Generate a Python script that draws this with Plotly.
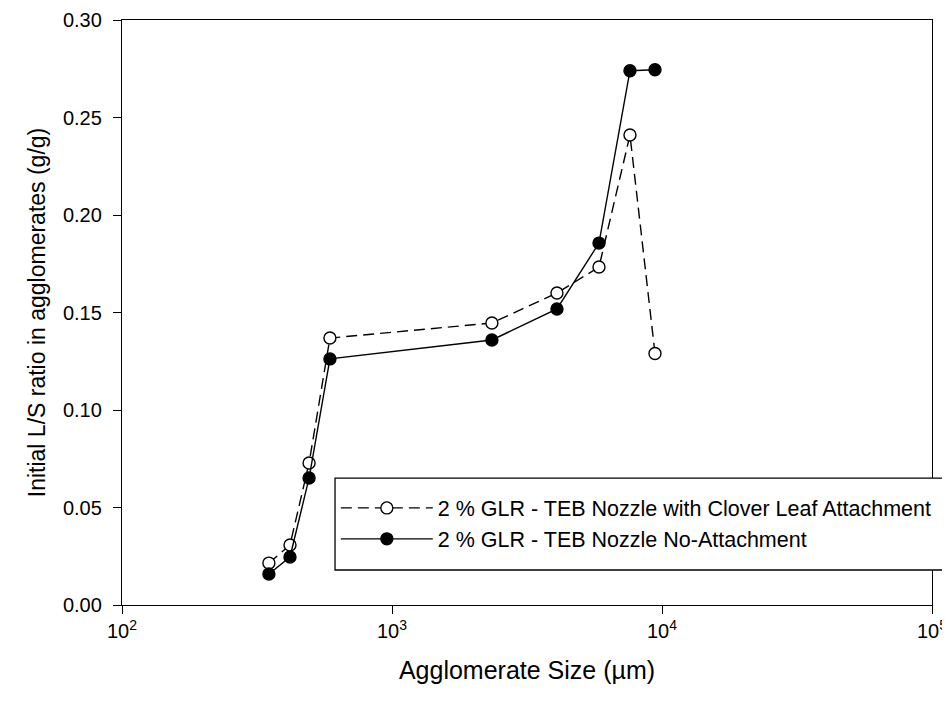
import plotly.graph_objects as go

# Agglomerate size (µm)
x_clover = [350, 419, 493, 589, 2344, 4083, 5843, 7610, 9420]
y_clover = [0.0215, 0.0308, 0.0728, 0.1369, 0.1446, 0.1600, 0.1733, 0.2410, 0.1290]

x_noatt = [350, 419, 493, 589, 2344, 4083, 5843, 7610, 9420]
y_noatt = [0.0159, 0.0246, 0.0651, 0.1262, 0.1359, 0.1518, 0.1856, 0.2740, 0.2745]

name_clover = "2 % GLR - TEB Nozzle with Clover Leaf Attachment"
name_noatt = "2 % GLR - TEB Nozzle No-Attachment"

x_tickvals = [100, 1000, 10000, 100000]
x_ticktext = ["10<sup>2</sup>", "10<sup>3</sup>", "10<sup>4</sup>", "10<sup>5</sup>"]
y_tickvals = [0.00, 0.05, 0.10, 0.15, 0.20, 0.25, 0.30]
y_ticktext = ["0.00", "0.05", "0.10", "0.15", "0.20", "0.25", "0.30"]

FONT = "Liberation Sans, Arial"

fig = go.Figure()
fig.add_trace(go.Scatter(
    x=x_clover, y=y_clover, name=name_clover, mode="lines+markers",
    line=dict(color="black", width=1.4, dash="11px,6px"),
    marker=dict(symbol="circle", size=12, color="white", line=dict(color="black", width=1.4)),
))
fig.add_trace(go.Scatter(
    x=x_noatt, y=y_noatt, name=name_noatt, mode="lines+markers",
    line=dict(color="black", width=1.4),
    marker=dict(symbol="circle", size=12, color="black", line=dict(color="black", width=1.4)),
))

axis_common = dict(
    showline=True, linecolor="black", linewidth=1.3, mirror=True,
    ticks="outside", ticklen=8, tickcolor="black", tickwidth=1.3,
    showgrid=False, zeroline=False,
    tickfont=dict(family=FONT, size=20, color="black"),
)

fig.update_xaxes(
    type="log", range=[2, 5], tickvals=x_tickvals, ticktext=x_ticktext,
    title=dict(text="Agglomerate Size (µm)", font=dict(family=FONT, size=25, color="black"), standoff=20),
    **axis_common,
)
fig.update_yaxes(
    range=[0, 0.30], tickvals=y_tickvals, ticktext=y_ticktext, ticklabelstandoff=7,
    title=dict(text="Initial L/S ratio in agglomerates (g/g)", font=dict(family=FONT, size=23, color="black"), standoff=10),
    **axis_common,
)

# legend frame (white box, extends past right edge like the reference)
fig.add_shape(
    type="rect", xref="paper", yref="paper",
    x0=0.263, x1=1.05, y0=0.0598, y1=0.217,
    line=dict(color="black", width=1.3), fillcolor="white", layer="above",
)

fig.update_layout(
    width=942, height=682,
    margin=dict(l=114, r=18, t=12, b=85, autoexpand=False),
    plot_bgcolor="white", paper_bgcolor="white",
    font=dict(family=FONT, color="black"),
    legend=dict(
        x=0.264, y=0.201, xanchor="left", yanchor="top",
        bgcolor="rgba(0,0,0,0)", borderwidth=0,
        font=dict(family=FONT, size=21.5, color="black"),
        tracegroupgap=0, itemwidth=92,
    ),
    showlegend=True,
)

fig.write_html("out.html")
